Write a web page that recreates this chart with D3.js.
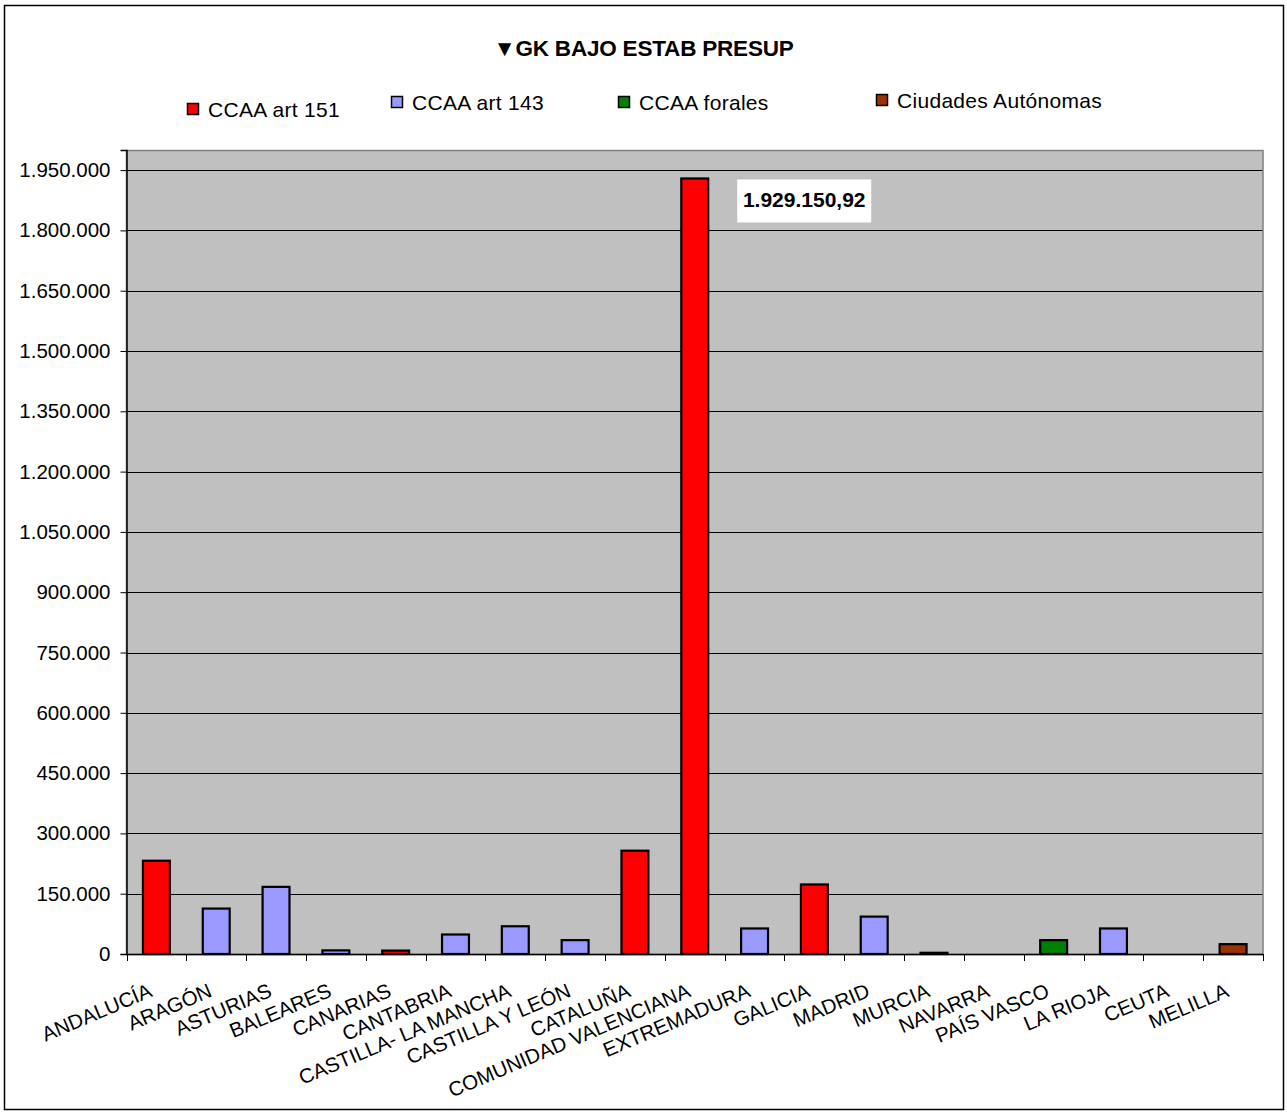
<!DOCTYPE html>
<html>
<head>
<meta charset="utf-8">
<script src="https://cdn.jsdelivr.net/npm/d3@7"></script>
<style>
  body { margin: 0; background: #fff; }
  svg text { font-family: Arial, "Liberation Sans", sans-serif; fill: #000; }
</style>
</head>
<body>
<div id="chart"></div>
<script>
// data
const categories = [
  "ANDALUCÍA", "ARAGÓN", "ASTURIAS", "BALEARES", "CANARIAS", "CANTABRIA",
  "CASTILLA- LA MANCHA", "CASTILLA  Y  LEÓN", "CATALUÑA", "COMUNIDAD VALENCIANA",
  "EXTREMADURA", "GALICIA", "MADRID", "MURCIA", "NAVARRA", "PAÍS VASCO",
  "LA RIOJA", "CEUTA", "MELILLA"
];
const values = [
  232000, 113000, 167000, 9000, 8500, 48500, 69000, 34500, 257000, 1929150.92,
  63500, 173000, 93000, 3000, 0, 34500, 63500, 0, 24500
];
const groupOf = [
  "CCAA art 151", "CCAA art 143", "CCAA art 143", "CCAA art 143", "CCAA art 151",
  "CCAA art 143", "CCAA art 143", "CCAA art 143", "CCAA art 151", "CCAA art 151",
  "CCAA art 143", "CCAA art 151", "CCAA art 143", "CCAA art 143", "CCAA forales",
  "CCAA forales", "CCAA art 143", "Ciudades Autónomas", "Ciudades Autónomas"
];
const groups = ["CCAA art 151", "CCAA art 143", "CCAA forales", "Ciudades Autónomas"];
const groupColors = ["#FF0000", "#9999FF", "#008000", "#993300"];
const yTicks = [0, 150000, 300000, 450000, 600000, 750000, 900000, 1050000,
  1200000, 1350000, 1500000, 1650000, 1800000, 1950000];
const yMax = 2000000;
const title = "▼GK BAJO ESTAB PRESUP";
const labelledIndex = 9;

// sizes
const width = 1287;
const height = 1113;
const plotLeft = 126.5;
const plotRight = 1263;
const plotTop = 150;
const plotBottom = 954;

const es = d3.formatLocale({ decimal: ",", thousands: ".", grouping: [3], currency: ["", "€"] });
const fmtTick = es.format(",d");
const fmtLabel = es.format(",.2f");

const svg = d3.select("#chart").append("svg")
  .attr("width", width)
  .attr("height", height);

// outer chart border
svg.append("rect")
  .attr("x", 4.5).attr("y", 5.5)
  .attr("width", 1279).attr("height", 1104)
  .attr("fill", "#fff")
  .attr("stroke", "#000")
  .attr("stroke-width", 1.5);

// title
svg.append("text")
  .attr("x", width / 2)
  .attr("y", 56)
  .attr("text-anchor", "middle")
  .style("font-size", "22.5px")
  .style("font-weight", "bold")
  .style("letter-spacing", "-0.2px")
  .text(title);

// legend
const legendPos = [
  { sx: 187, by: 117 },
  { sx: 391, by: 110 },
  { sx: 618, by: 110 },
  { sx: 876, by: 108 }
];
const colorScale = d3.scaleOrdinal().domain(groups).range(groupColors);

const legend = svg.append("g").attr("class", "legend")
  .selectAll("g")
  .data(groups)
  .join("g")
  .attr("transform", (d, i) => `translate(${legendPos[i].sx}, ${legendPos[i].by})`);

legend.append("rect")
  .attr("x", 0.5).attr("y", -13.5)
  .attr("width", 11).attr("height", 11)
  .attr("fill", d => colorScale(d))
  .attr("stroke", "#000")
  .attr("stroke-width", 1.5);

legend.append("text")
  .attr("x", 21)
  .attr("y", 0)
  .style("font-size", "21px")
  .style("letter-spacing", "0.3px")
  .text(d => d);

// scales
const xScale = d3.scaleBand()
  .domain(categories)
  .range([plotLeft, plotRight])
  .paddingInner(0.55)
  .paddingOuter(0.275);

const yScale = d3.scaleLinear()
  .domain([0, yMax])
  .range([plotBottom, plotTop]);

// plot area
svg.append("rect")
  .attr("x", plotLeft).attr("y", plotTop)
  .attr("width", plotRight - plotLeft).attr("height", plotBottom - plotTop)
  .attr("fill", "#C0C0C0");

// gridlines
svg.append("g").attr("class", "grid")
  .selectAll("line")
  .data(yTicks.filter(d => d > 0))
  .join("line")
  .attr("x1", plotLeft).attr("x2", plotRight)
  .attr("y1", d => Math.round(yScale(d)) + 0.5)
  .attr("y2", d => Math.round(yScale(d)) + 0.5)
  .attr("stroke", "#000")
  .attr("stroke-width", 1);

// plot border (grey)
svg.append("rect")
  .attr("x", plotLeft).attr("y", plotTop + 0.5)
  .attr("width", plotRight - plotLeft).attr("height", plotBottom - plotTop)
  .attr("fill", "none")
  .attr("stroke", "#808080")
  .attr("stroke-width", 1.5);

// bars
const data = categories.map((c, i) => ({ cat: c, value: values[i], group: groupOf[i] }));

svg.append("g").attr("class", "bars")
  .selectAll("rect")
  .data(data.filter(d => d.value > 0))
  .join("rect")
  .attr("x", d => xScale(d.cat))
  .attr("y", d => yScale(d.value))
  .attr("width", xScale.bandwidth())
  .attr("height", d => plotBottom - yScale(d.value))
  .attr("fill", d => colorScale(d.group))
  .attr("stroke", "#000")
  .attr("stroke-width", 2.2);

// y axis
const yAxis = d3.axisLeft(yScale)
  .tickValues(yTicks)
  .tickFormat(fmtTick)
  .tickSize(6)
  .tickPadding(10);

const gy = svg.append("g")
  .attr("transform", `translate(${plotLeft}, 0)`)
  .call(yAxis);
gy.select(".domain").attr("stroke", "#000").attr("stroke-width", 1.5);
gy.selectAll(".tick line").attr("stroke", "#000");
gy.selectAll(".tick text")
  .style("font-size", "20.5px")
  .style("font-family", "Arial, 'Liberation Sans', sans-serif");

// x axis line and boundary ticks
svg.append("line")
  .attr("x1", plotLeft).attr("x2", plotRight)
  .attr("y1", plotBottom + 0.5).attr("y2", plotBottom + 0.5)
  .attr("stroke", "#000")
  .attr("stroke-width", 1.5);

const step = xScale.step();
const boundaries = categories.map(c => xScale(c) - (step - xScale.bandwidth()) / 2)
  .concat([plotRight]);

svg.append("g").attr("class", "xticks")
  .selectAll("line")
  .data(boundaries)
  .join("line")
  .attr("x1", d => Math.round(d) + 0.5).attr("x2", d => Math.round(d) + 0.5)
  .attr("y1", plotBottom).attr("y2", plotBottom + 7)
  .attr("stroke", "#000");

// category labels
svg.append("g").attr("class", "xlabels")
  .selectAll("text")
  .data(categories)
  .join("text")
  .attr("text-anchor", "end")
  .attr("transform", d => `translate(${xScale(d) + xScale.bandwidth() / 2 - 3}, ${plotBottom + 42}) rotate(-23)`)
  .style("font-size", "20.5px")
  .text(d => d);

// data label for the biggest bar
const lab = data[labelledIndex];
const labX = xScale(lab.cat) + xScale.bandwidth() + 29;
const labY = yScale(lab.value) + 1;
svg.append("rect")
  .attr("x", labX).attr("y", labY)
  .attr("width", 134).attr("height", 43)
  .attr("fill", "#fff");
svg.append("text")
  .attr("x", labX + 67)
  .attr("y", labY + 28)
  .attr("text-anchor", "middle")
  .style("font-size", "21px")
  .style("font-weight", "bold")
  .text(fmtLabel(lab.value));
</script>
</body>
</html>
